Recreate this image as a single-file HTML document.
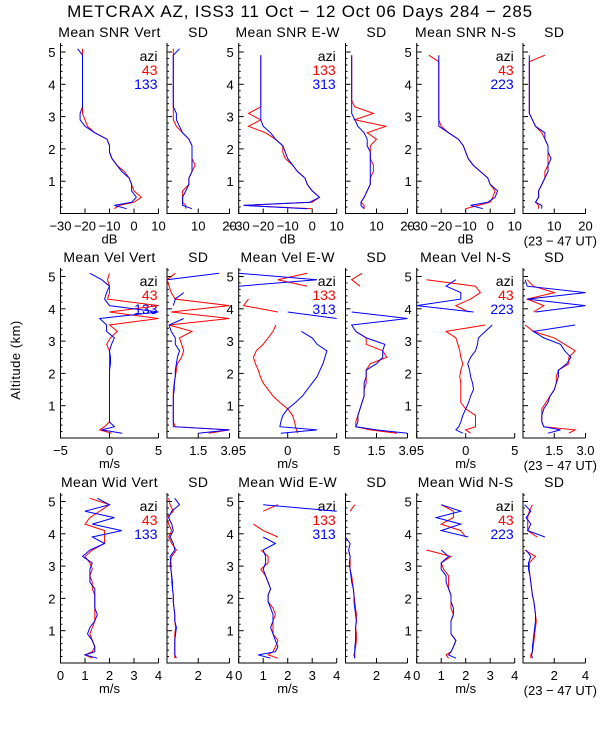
<!DOCTYPE html>
<html><head><meta charset="utf-8"><style>
body{margin:0;background:#fff;}
svg{display:block;font-family:"Liberation Sans",sans-serif;}
</style></head><body>
<svg id="chart" width="600" height="750" viewBox="0 0 600 750" xmlns="http://www.w3.org/2000/svg">
<text x="300" y="17" font-size="17" letter-spacing="0.8" text-anchor="middle">METCRAX AZ, ISS3  11 Oct − 12 Oct 06 Days 284 − 285</text>
<text transform="translate(20,360) rotate(-90)" font-size="13" letter-spacing="0.5" text-anchor="middle">Altitude (km)</text>
<g id="plots"></g>
</svg>
<script>
const ALT = [0.15,0.25,0.35,0.5,0.7,0.9,1.1,1.3,1.5,1.7,1.9,2.1,2.3,2.5,2.7,2.9,3.1,3.3,3.5,3.7,3.9,4.1,4.3,4.5,4.7,4.9,5.1];
const N=null;
// Row 1: SNR (dB) and SD
const snrVertA = [-8,-6,0,3,0,-1,-2,-4,-7,-9,-10,-10,-11,-16,-19,-20,-21,-21,-21,-21,-21,-21,-21,-21,-21,-21,-21];
const snrVertB = [-3,-8,-1,1,-1,-1,-2,-5,-7,-9,-10,-10,-11,-16,-20,-22,-22,-21,-21,-21,-21,-21,-21,-21,-21,-21,-23];
const snrVertSdA = [6,6,5,5,5,7,7,8,9,8,8,8,7,5,3,2,2,2,2,2,2,2,2,2,2,2,2];
const snrVertSdB = [8,5,5,5,6,7,7,8,8,8,8,8,7,5,4,3,3,2,2,2,2,2,2,2,2,2,4];
const snrEwA = [0,-28,0,3,0,-2,-3,-6,-8,-11,-12,-12,-15,-19,-26,-21,-26,-21,-21,-21,-21,-21,-21,-21,-21,-21,N];
const snrEwB = [-2,-28,-1,3,0,-2,-3,-6,-8,-10,-11,-12,-15,-17,-20,-21,-21,-21,-21,-21,-21,-21,-21,-21,-21,-21,N];
const snrEwSdA = [6,6,5,6,7,8,8,9,9,8,8,8,10,7,13,3,9,3,2,2,2,2,2,2,2,2,N];
const snrEwSdB = [6,5,5,6,7,8,8,8,8,8,8,7,7,6,4,3,2,2,2,2,2,2,2,2,2,2,N];
const snrNsA = [-10,-5,0,1,2,0,-1,-4,-7,-9,-10,-11,-13,-17,-20,-21,-21,-21,-21,-21,-21,-21,-21,-21,-21,-25,N];
const snrNsB = [-3,-8,-1,2,3,0,-1,-4,-7,-9,-10,-11,-13,-17,-21,-21,-21,-21,-21,-21,-21,-21,-21,-21,-21,-21,N];
const snrNsSdA = [5,5,4,5,5,6,7,7,8,8,8,8,7,6,4,3,2,2,2,2,2,2,2,2,2,7,N];
const snrNsSdB = [6,6,4,5,5,6,7,8,8,9,8,8,7,7,4,3,2,2,2,2,2,2,2,2,2,2,N];
// Row 2: velocity (m/s)
const velVertA = [0.2,-1,-0.5,0,0,0,0,0,0,0,0,0,0,0,0,-0.3,0.1,0.8,0,5,0,5,-0.2,0,0,-0.2,0];
const velVertB = [1.3,-0.8,0.5,0,0,0,0,0,0,0,0,0,0.1,0.1,0,0.2,0.5,-0.3,-0.3,-1,5,0,-0.5,-0.3,0,-0.8,-2];
const velVertSdA = [2,3,0.4,0.3,0.3,0.3,0.3,0.3,0.3,0.35,0.4,0.45,0.5,0.7,0.8,0.7,0.6,1.2,0.1,3,0.2,3,0.4,0.2,0.1,0,0.4];
const velVertSdB = [1.5,3,0.3,0.3,0.3,0.3,0.3,0.3,0.35,0.35,0.4,0.4,0.45,0.5,0.6,0.4,0.4,0.2,0.1,0.8,N,0.3,0.4,0.8,N,0,2.5];
const velEwA = [1,0.9,0.8,0.7,0.5,0,-0.8,-1.5,-2,-2.5,-2.8,-3,-3.3,-3.5,-3.2,-2.5,-2,-1.5,-1.2,N,-1,-4.5,-4,N,2,-1,2];
const velEwB = [-0.7,3,-0.8,-0.7,-0.5,0,0.8,1.5,2,2.5,3,3.3,3.6,3.8,4,3,2.5,1.4,N,5,0,N,N,N,-5,3,-5];
const velEwSdA = [2.5,1.2,0.5,0.5,0.6,0.7,0.8,0.9,0.9,1,1,1,1.2,2,1.8,1,1,0.5,N,N,3,N,N,N,0.7,0.3,0.8];
const velEwSdB = [3,1.5,0.5,0.6,0.6,0.7,0.8,0.9,0.9,0.9,1,1,1.5,1.8,1.8,1.9,1,0.5,0.3,3,0.3,N,N,N,0,N,N];
const velNsA = [0.5,0,1,1,1,0,-0.5,-0.5,-0.5,-0.5,-0.6,-0.5,-0.3,-0.5,-0.6,-0.8,-1,-2,2,N,0.3,-1,0.5,1.5,1,-4,N];
const velNsB = [-0.3,-1,-0.7,-0.5,-0.3,0,0.3,0.5,0.8,0.7,0.5,0.4,0.2,0.5,1,1.2,1.3,2,2.7,N,0.8,-5,-0.5,-0.5,-2,-1,N];
const velNsSdA = [2.2,2.5,1,0.9,0.9,0.9,1.1,1.3,1.5,1.6,1.6,1.7,2.2,2.2,2.5,2,1.5,0.5,0.1,N,0.5,1,0.2,1.5,0.5,0.2,N];
const velNsSdB = [1.2,1.8,1,0.9,0.9,1,1.2,1.3,1.5,1.6,1.7,1.7,2.1,2.3,2,1.8,1,0.5,2.5,N,0.6,3,0.2,3,0.2,0.1,N];
// Row 3: spectral width (m/s)
const widVertA = [1.3,1,1.3,1.4,1.3,1.2,1.3,1.4,1.4,1.4,1.4,1.4,1.3,1.3,1.2,1.3,1.2,1,1.3,1.8,1.8,1.8,1,1.2,1.6,2,1.2];
const widVertB = [1.5,1,1.4,1.4,1.3,1.1,1.2,1.4,1.5,1.4,1.4,1.4,1.4,1.2,1.2,1.2,1.3,0.9,1.2,1.8,1.3,2.5,1.3,2.2,1,2,1.5];
const widVertSdA = [0.5,0.5,0.5,0.5,0.5,0.5,0.55,0.5,0.5,0.45,0.4,0.4,0.35,0.3,0.3,0.25,0.2,0.3,0.6,0.3,0.1,0.3,0.1,0,0.4,0.2,0.1];
const widVertSdB = [0.6,0.5,0.5,0.5,0.5,0.55,0.6,0.5,0.5,0.45,0.4,0.4,0.35,0.35,0.3,0.25,0.25,0.2,0.5,0.4,0.2,0.4,0.3,0.1,0.3,0.8,0.5];
const widEwA = [1.6,1.2,1.4,1.5,1.6,1.4,1.4,1.4,1.5,1.4,1.2,1.2,1.3,1.2,1.1,0.9,1.2,1.2,0.9,N,1.6,1,0.6,N,1,1.6,N];
const widEwB = [1.3,0.8,1.5,1.6,1.5,1.4,1.3,1.4,1.4,1.3,1.2,1.2,1.3,1.2,1.1,1,1.1,1.1,1,1.5,1,N,N,N,4,1,N];
const widEwSdA = [0.6,0.6,0.6,0.65,0.7,0.7,0.65,0.7,0.7,0.65,0.6,0.55,0.5,0.45,0.4,0.3,0.3,0.3,0.2,N,0.1,N,N,N,0.3,0.6,N];
const widEwSdB = [0.6,0.55,0.6,0.6,0.65,0.65,0.65,0.7,0.65,0.6,0.55,0.55,0.5,0.4,0.35,0.3,0.25,0.3,0.2,0.3,0,N,N,N,0,N,N];
const widNsA = [1.3,1.2,1.4,1.5,1.6,1.4,1.4,1.4,1.5,1.4,1.4,1.4,1.3,1.3,1.3,1.1,1,1.4,0.4,N,2,1.8,1,1.5,1.5,1,N];
const widNsB = [1.6,1.3,1.4,1.5,1.6,1.4,1.4,1.4,1.5,1.5,1.4,1.4,1.3,1.2,1.2,1,1,1.3,1,N,2.1,1,1.8,0.8,1.8,1,N];
const widNsSdA = [0.5,0.5,0.6,0.65,0.7,0.75,0.8,0.85,0.8,0.75,0.7,0.6,0.55,0.5,0.45,0.4,0.4,0.8,0.1,N,0.9,0.3,0.3,0.3,0.4,0.6,N];
const widNsSdB = [0.6,0.55,0.6,0.6,0.65,0.7,0.75,0.8,0.8,0.75,0.7,0.6,0.55,0.5,0.45,0.35,0.35,0.5,0.2,N,1.4,0.3,0.5,0.2,0.5,0.1,N];

const COLS = [[60.5,158.5],[167,229.5],[238.7,336.7],[345.5,407.5],[416.7,514.7],[523,585.5]];
const ROWS = [{b:213.5,t:43},{b:438,t:268},{b:663,t:493}];
const KM = 32.3;
const AZI = [["43","133"],["133","313"],["43","223"]];
const rowDefs = [
 {name:"snr", titles:["Mean SNR Vert","SD","Mean SNR E-W","SD","Mean SNR N-S","SD"], unit:"dB",
  meanDom:[-30,10], meanTicks:[-30,-20,-10,0,10], meanLabels:["−30","−20","−10","0","10"],
  sdDom:[0,20], sdTicks:[10,20], sdLabels:["10","20"],
  series:[[snrVertA,snrVertB],[snrVertSdA,snrVertSdB],[snrEwA,snrEwB],[snrEwSdA,snrEwSdB],[snrNsA,snrNsB],[snrNsSdA,snrNsSdB]]},
 {name:"vel", titles:["Mean Vel Vert","SD","Mean Vel E-W","SD","Mean Vel N-S","SD"], unit:"m/s",
  meanDom:[-5,5], meanTicks:[-5,0,5], meanLabels:["−5","0","5"],
  sdDom:[0,3], sdTicks:[1.5,3], sdLabels:["1.5","3.0"],
  series:[[velVertA,velVertB],[velVertSdA,velVertSdB],[velEwA,velEwB],[velEwSdA,velEwSdB],[velNsA,velNsB],[velNsSdA,velNsSdB]]},
 {name:"wid", titles:["Mean Wid Vert","SD","Mean Wid E-W","SD","Mean Wid N-S","SD"], unit:"m/s",
  meanDom:[0,4], meanTicks:[0,1,2,3,4], meanLabels:["0","1","2","3","4"],
  sdDom:[0,4], sdTicks:[2,4], sdLabels:["2","4"],
  series:[[widVertA,widVertB],[widVertSdA,widVertSdB],[widEwA,widEwB],[widEwSdA,widEwSdB],[widNsA,widNsB],[widNsSdA,widNsSdB]]}
];
const NS="http://www.w3.org/2000/svg";
const root=document.getElementById('plots');
function mk(tag,attrs,parent){const e=document.createElementNS(NS,tag);for(const k in attrs)e.setAttribute(k,attrs[k]);(parent||root).appendChild(e);return e;}
rowDefs.forEach((rd,ri)=>{
  const R=ROWS[ri];
  const yS=a=>R.b-a*KM;
  COLS.forEach((c,ci)=>{
    const isMean=ci%2===0;
    const dom=isMean?rd.meanDom:rd.sdDom;
    const xS=v=>c[0]+(v-dom[0])/(dom[1]-dom[0])*(c[1]-c[0]);
    const g=mk('g',{});
    
    
    const t=mk('text',{x:(c[0]+c[1])/2,y:R.t-6,'font-size':14,'letter-spacing':0.4,'text-anchor':'middle'},g);
    t.textContent=rd.titles[ci];
    
    
    mk('path',{d:`M${c[0]},${R.t}V${R.b}H${c[1]}`,stroke:'#000',fill:'none','stroke-width':1},g);
    for(let a=0.2;a<=5.3;a+=0.2){const y=yS(a);const maj=Math.abs(a-Math.round(a))<0.01;
      mk('line',{x1:c[0],x2:c[0]+(maj?5:2),y1:y,y2:y,stroke:'#000','stroke-width':1},g);
      if(maj&&isMean){const l=mk('text',{x:c[0]-5,y:y+5,'font-size':13,'text-anchor':'end'},g);l.textContent=Math.round(a);
        
        }}
    const ticks=isMean?rd.meanTicks:rd.sdTicks, labs=isMean?rd.meanLabels:rd.sdLabels;
    ticks.forEach((v,i)=>{const x=xS(v);
      mk('line',{x1:x,x2:x,y1:R.b,y2:R.b-5,stroke:'#000'},g);
      const l=mk('text',{x:x,y:R.b+17,'font-size':13,'text-anchor':'middle'},g);l.textContent=labs[i];
      
      });
    if(isMean){
      const u=mk('text',{x:(c[0]+c[1])/2,y:R.b+30,'font-size':13,'text-anchor':'middle'},g);u.textContent=rd.unit;
      
      
      const az=AZI[ci/2];
      [["azi","#000"],[az[0],"#f00"],[az[1],"#00f"]].forEach((p,k)=>{
        const e=mk('text',{x:c[1]-1,y:R.t+18+k*14,'font-size':14,'text-anchor':'end',fill:p[1]},g);e.textContent=p[0];
        
        });
    }
    rd.series[ci].forEach((vals,si)=>{
      let d='',pen=false;
      vals.forEach((v,i)=>{if(v===null){pen=false;return;}d+=(pen?'L':'M')+xS(v).toFixed(1)+','+yS(ALT[i]).toFixed(1);pen=true;});
      const p=mk('path',{d:d,fill:'none',stroke:si===0?'#f00':'#00f','stroke-width':1},g);
      
      
    });
  });
  const ut=mk('text',{x:597,y:R.b+32,'font-size':13,'text-anchor':'end'});ut.textContent='(23 − 47 UT)';
  
  
});
</script>
</body></html>
